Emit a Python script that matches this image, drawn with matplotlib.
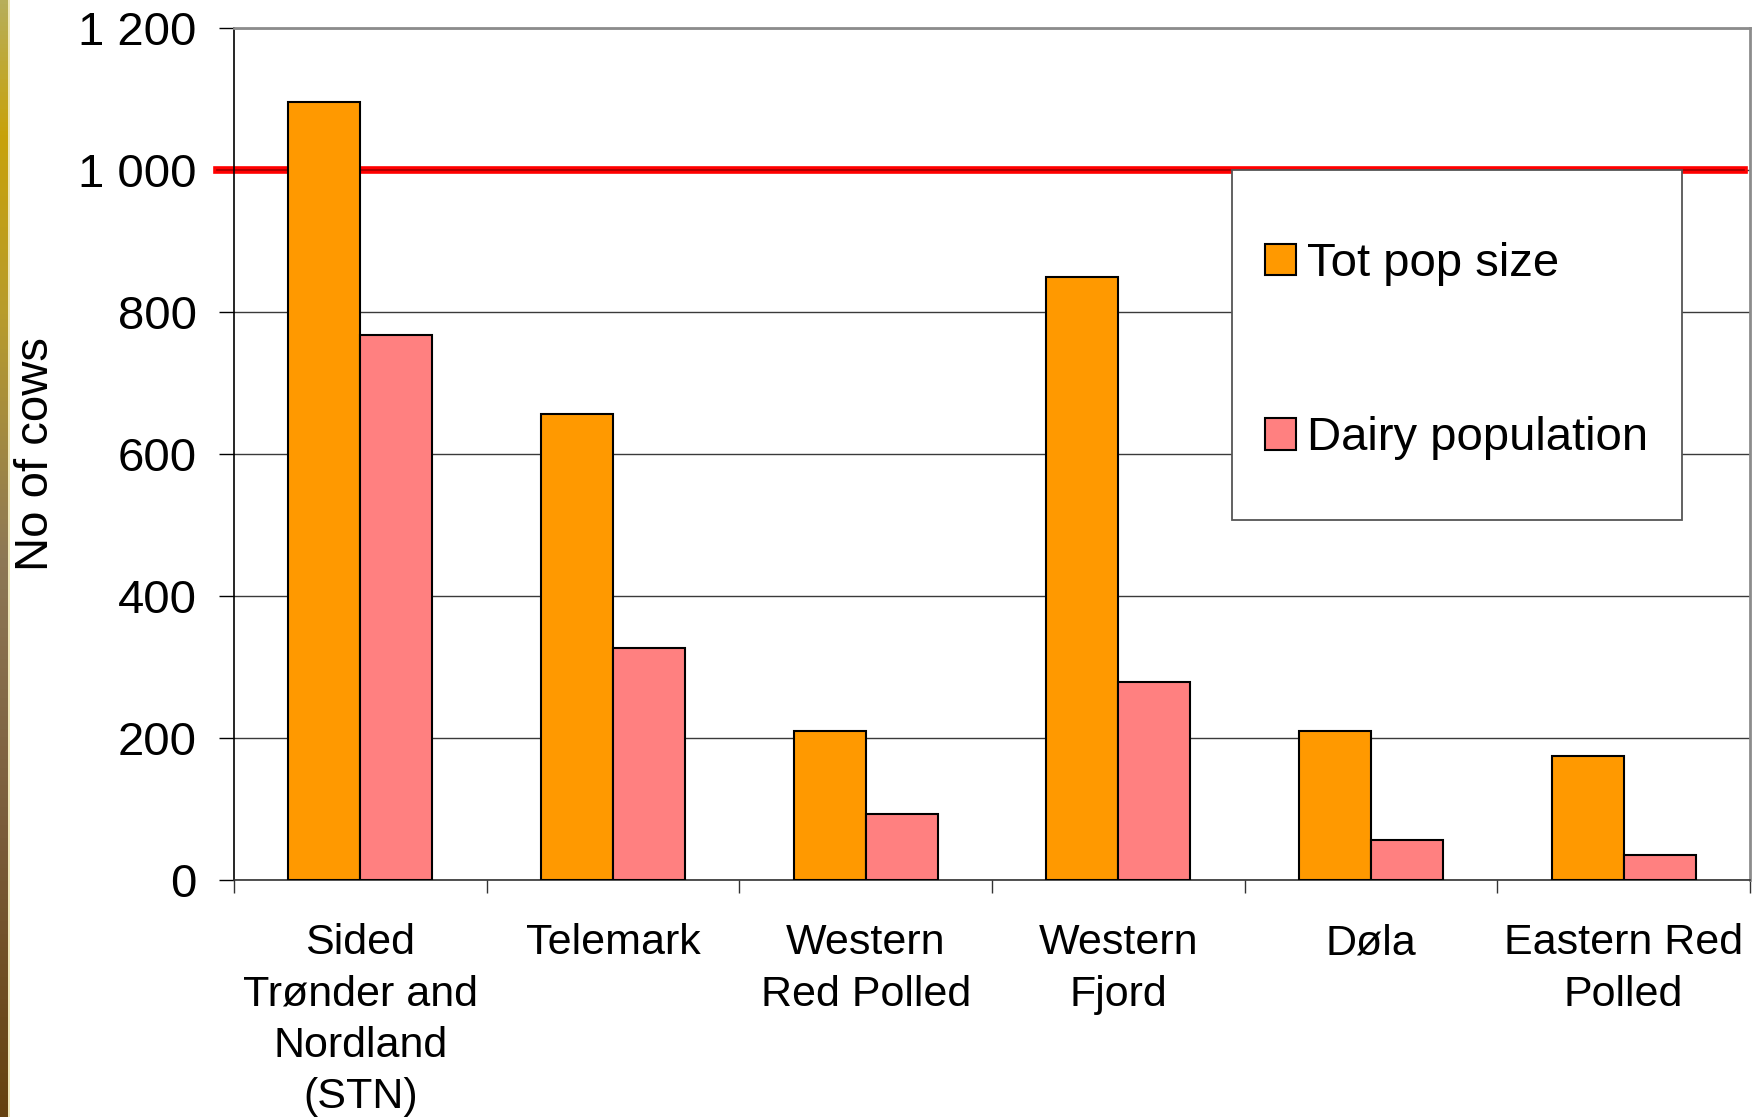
import numpy as np
import matplotlib
matplotlib.use("Agg")
import matplotlib.pyplot as plt
from matplotlib.ticker import FuncFormatter, FixedLocator
from matplotlib.patches import Rectangle
from matplotlib.colors import LinearSegmentedColormap

# ---------------- data ----------------
categories = ["Sided\nTrønder and\nNordland\n(STN)", "Telemark", "Western\nRed Polled",
              "Western\nFjord", "Døla", "Eastern Red\nPolled"]
tot_pop = [1096, 657, 210, 849, 210, 174]
dairy_pop = [767, 327, 93, 279, 57, 35]
series_names = ["Tot pop size", "Dairy population"]
threshold = 1000
yticks = [0, 200, 400, 600, 800, 1000, 1200]

plt.rcParams['font.family'] = ['Liberation Sans', 'DejaVu Sans']
FS = 34
FSX = 31

W, H = 1758, 1117
fig = plt.figure(figsize=(W / 100, H / 100), dpi=100)
fig.patch.set_facecolor('white')

# left decorative gradient strip
strip = fig.add_axes([0, 0, 8 / W, 1])
cmap = LinearSegmentedColormap.from_list("strip", [
    (0.0, "#B7AE5A"), (0.12, "#C8A20A"), (0.28, "#B89C2C"),
    (0.5, "#8E7856"), (0.75, "#7A5C3A"), (1.0, "#66420F")])
grad = np.linspace(0, 1, 256).reshape(-1, 1)
strip.imshow(grad, aspect='auto', cmap=cmap, extent=[0, 1, 1, 0])
strip.set_axis_off()
edge = fig.add_axes([8 / W, 0, 2 / W, 1])
edge.set_axis_off()
edge.add_patch(Rectangle((0, 0), 1, 1, color="#EFE7B8", transform=edge.transAxes))

ax = fig.add_axes([234 / W, 1 - 880 / H, (1750 - 234) / W, (880 - 28) / H])
x = np.arange(len(categories))
bw = 0.285
b1 = ax.bar(x - bw / 2, tot_pop, bw, color="#FF9900", edgecolor="black", linewidth=1.5,
            zorder=3, label=series_names[0])
b2 = ax.bar(x + bw / 2, dairy_pop, bw, color="#FF8080", edgecolor="black", linewidth=1.5,
            zorder=3, label=series_names[1])

ax.set_xlim(-0.5, len(categories) - 0.5)
ax.set_ylim(0, 1200)

# gridlines
ax.yaxis.set_major_locator(FixedLocator(yticks))
ax.yaxis.set_major_formatter(FuncFormatter(lambda v, p: f"{int(v):,}".replace(",", " ")))
ax.grid(axis='y', color="#3a3a3a", linewidth=1.0, zorder=0.5)
ax.set_axisbelow(True)

# threshold line
ax.axhline(threshold, xmin=-0.0112, xmax=0.996, color="#FF0000", linewidth=5.5,
           clip_on=False, zorder=2)
ax.axhline(threshold, xmin=-0.0112, xmax=0.996, color="#A00000", linewidth=1.2,
           clip_on=False, zorder=2.1)

# x ticks: boundaries as major ticks, labels at centers (minor)
ax.set_xticks(np.arange(-0.5, len(categories), 1.0))
ax.set_xticklabels([])
ax.set_xticks(x, minor=True)
ax.set_xticklabels(categories, minor=True, fontsize=FSX, linespacing=1.37,
                   va='top', ha='center')
ax.tick_params(axis='x', which='major', length=9.5, width=1.0, color="#333333", direction='out')
ax.tick_params(axis='x', which='minor', length=0, pad=31)
ax.tick_params(axis='y', which='major', length=10.8, width=1.0, color="black",
               labelsize=FS, pad=16)

ax.spines['left'].set_color('black')
ax.spines['left'].set_linewidth(1.2)
ax.spines['bottom'].set_color('#333333')
ax.spines['bottom'].set_linewidth(1.2)
for s in ['top', 'right']:
    ax.spines[s].set_color('#8c8c8c')
    ax.spines[s].set_linewidth(2.0)

fig.text(36 / W, 1 - 405 * 1.1212 / H, "No of cows", rotation=90, fontsize=FS,
         ha='center', va='center')

# legend box
fig.add_artist(Rectangle((1232 / W, 1 - 520 / H), 450 / W, 350 / H,
                         transform=fig.transFigure, facecolor='white',
                         edgecolor='#555555', linewidth=1.3, zorder=1.8))
leg = fig.legend(handles=[b1, b2], labels=series_names, loc='upper left',
                 bbox_to_anchor=(1265 / W, 1 - 242 / H), frameon=False,
                 fontsize=FS, borderpad=0, handlelength=0.66, handleheight=0.66,
                 handletextpad=0.22, labelspacing=2.76, borderaxespad=0)
leg.set_zorder(5)

fig.savefig("out.png", dpi=100, facecolor='white')
